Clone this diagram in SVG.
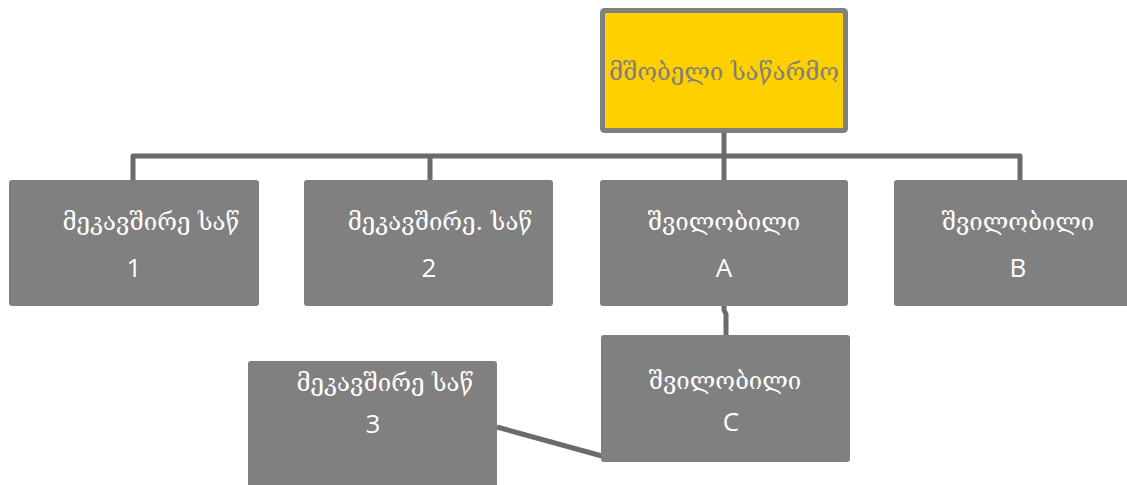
<svg xmlns="http://www.w3.org/2000/svg" width="1127" height="485" viewBox="0 0 1127 485">
<style>
.box{fill:#808080;}
.t{font-family:"Open Sans","DejaVu Sans",sans-serif;font-size:26px;fill:#ffffff;text-anchor:middle;}
.g{font-family:"DejaVu Serif",serif;font-size:24px;fill:#ffffff;text-anchor:middle;}
.c{fill:none;stroke:#6b6b6b;stroke-width:5;stroke-linejoin:round;}
</style>
<rect width="1127" height="485" fill="#ffffff"/>
<g id="connectors">
<path class="c" d="M724 132 V156"/>
<path class="c" d="M133 180 V156 H1020 V180"/>
<path class="c" d="M430 156 V180"/>
<path class="c" d="M724 156 V180"/>
<path class="c" d="M724 306 V310 L726 314 V336"/>
<path class="c" d="M497 427 L602 456"/>
</g>
<g id="parent">
<rect x="602.5" y="10.5" width="243" height="120" rx="2" fill="#FFD000" stroke="#7f7f7f" stroke-width="5"/>
<text class="g" x="724" y="80" style="fill:#7f7f7f">მშობელი საწარმო</text>
</g>
<g id="assoc1">
<rect class="box" x="9" y="180" width="250" height="126" rx="3"/>
<text class="g" x="151" y="230">მეკავშირე საწ</text>
<text class="t" x="134" y="277">1</text>
</g>
<g id="assoc2">
<rect class="box" x="304" y="180" width="249" height="126" rx="3"/>
<text class="g" x="440" y="230">მეკავშირე. საწ</text>
<text class="t" x="429" y="277">2</text>
</g>
<g id="subA">
<rect class="box" x="600" y="180" width="248" height="126" rx="3"/>
<text class="g" x="724" y="230">შვილობილი</text>
<text class="t" x="724" y="277">A</text>
</g>
<g id="subB">
<rect class="box" x="894" y="180" width="240" height="126" rx="3"/>
<text class="g" x="1018" y="230">შვილობილი</text>
<text class="t" x="1018" y="277">B</text>
</g>
<g id="subC">
<rect class="box" x="601" y="335" width="249" height="127" rx="3"/>
<text class="g" x="725" y="389">შვილობილი</text>
<text class="t" x="731" y="431">C</text>
</g>
<g id="assoc3">
<rect class="box" x="248" y="361" width="249" height="130" rx="3"/>
<text class="g" x="385" y="391">მეკავშირე საწ</text>
<text class="t" x="373" y="433">3</text>
</g>
</svg>
